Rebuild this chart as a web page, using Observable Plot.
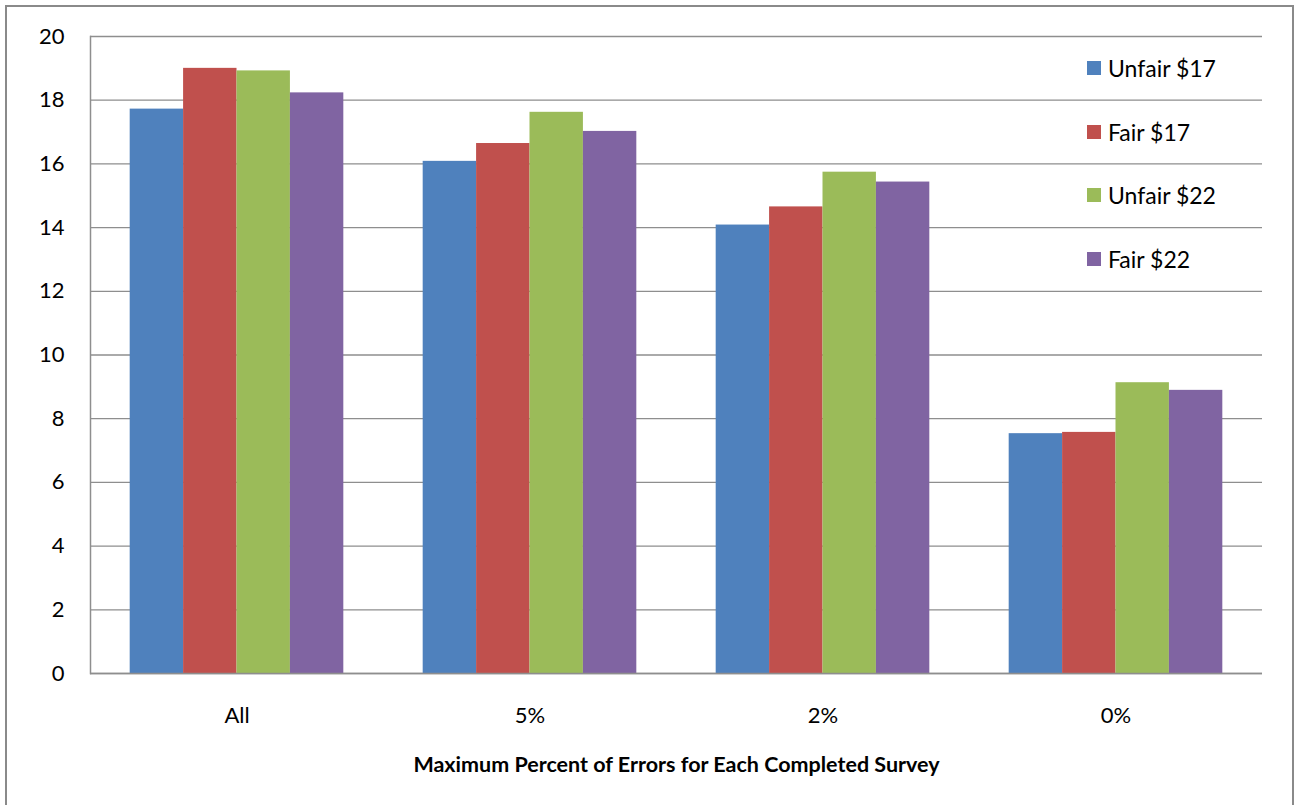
<!DOCTYPE html>
<html>
<head>
<meta charset="utf-8">
<script src="https://cdn.jsdelivr.net/npm/d3@7"></script>
<script src="https://cdn.jsdelivr.net/npm/@observablehq/plot@0.6"></script>
<style>
  html, body { margin: 0; padding: 0; background: #fff; }
  #wrap { position: relative; width: 1298px; height: 805px; overflow: hidden; font-family: Lato, "Open Sans", sans-serif; }
  #border { position: absolute; left: 5px; top: 5px; width: 1289px; height: 830px; border: 2px solid #8a8a8a; box-sizing: border-box; pointer-events: none; }
  #legend { position: absolute; left: 1087px; top: 0; }
  .item { position: absolute; left: 0; display: flex; align-items: center; white-space: nowrap; font-size: 23px; color: #000; transform: translateY(-50%); }
  .sw { width: 14px; height: 14px; margin-right: 7px; }
  g[aria-label="fx-axis label"] text { font-weight: bold; font-size: 21.5px; }
</style>
</head>
<body>
<div id="wrap">
  <div id="chart"></div>
  <div id="border"></div>
  <div id="legend"></div>
</div>
<script>
const groups = ["All", "5%", "2%", "0%"];
const series = ["Unfair $17", "Fair $17", "Unfair $22", "Fair $22"];
const unfair17 = [17.72, 16.08, 14.08, 7.53];
const fair17   = [19.00, 16.64, 14.65, 7.57];
const unfair22 = [18.92, 17.62, 15.74, 9.13];
const fair22   = [18.23, 17.02, 15.43, 8.89];
const colors = ["#4F81BD", "#C0504D", "#9BBB59", "#8064A2"];
const yTicks = [0, 2, 4, 6, 8, 10, 12, 14, 16, 18, 20];
const xTitle = "Maximum Percent of Errors for Each Completed Survey";

const valueSets = [unfair17, fair17, unfair22, fair22];
const table = groups.flatMap((g, gi) => series.map((s, si) => ({group: g, series: s, value: valueSets[si][gi]})));

const chart = Plot.plot({
  width: 1298,
  height: 805,
  marginLeft: 88,
  marginRight: 35,
  marginTop: 36,
  marginBottom: 132,
  style: {fontFamily: "Lato, 'Open Sans', sans-serif", fontSize: "22px", color: "#000", background: "transparent"},
  fx: {domain: groups, paddingInner: 0, paddingOuter: 0, label: null},
  x: {domain: series, paddingInner: 0, paddingOuter: 0.743, axis: null, round: false},
  y: {domain: [0, 20]},
  color: {domain: series, range: colors},
  marks: [
    Plot.gridY({ticks: yTicks, stroke: "#8e8e8e", strokeOpacity: 1, strokeWidth: 1.3}),
    Plot.barY(table, {fx: "group", x: "series", y: "value", fill: "series"}),
    Plot.ruleY([0], {stroke: "#8e8e8e", strokeWidth: 1.5}),
    Plot.frame({anchor: "left", facetAnchor: "left", stroke: "#8e8e8e", strokeWidth: 1.5}),
    Plot.axisY({ticks: yTicks, tickSize: 0, tickPadding: 26, stroke: "#8e8e8e", fill: "#000", label: null, fontSize: 22}),
    Plot.axisFx({anchor: "bottom", tickSize: 0, tickPadding: 34, fill: "#000", fontSize: 22, label: xTitle, labelAnchor: "center", labelOffset: 98})
  ]
});
document.getElementById("chart").appendChild(chart);

const centers = [67.5, 131.5, 195, 259];
const legend = document.getElementById("legend");
series.forEach((s, i) => {
  const it = document.createElement("div");
  it.className = "item";
  it.style.top = centers[i] + "px";
  const sw = document.createElement("div");
  sw.className = "sw";
  sw.style.background = colors[i];
  const t = document.createElement("span");
  t.textContent = s;
  it.appendChild(sw);
  it.appendChild(t);
  legend.appendChild(it);
});
</script>
</body>
</html>
